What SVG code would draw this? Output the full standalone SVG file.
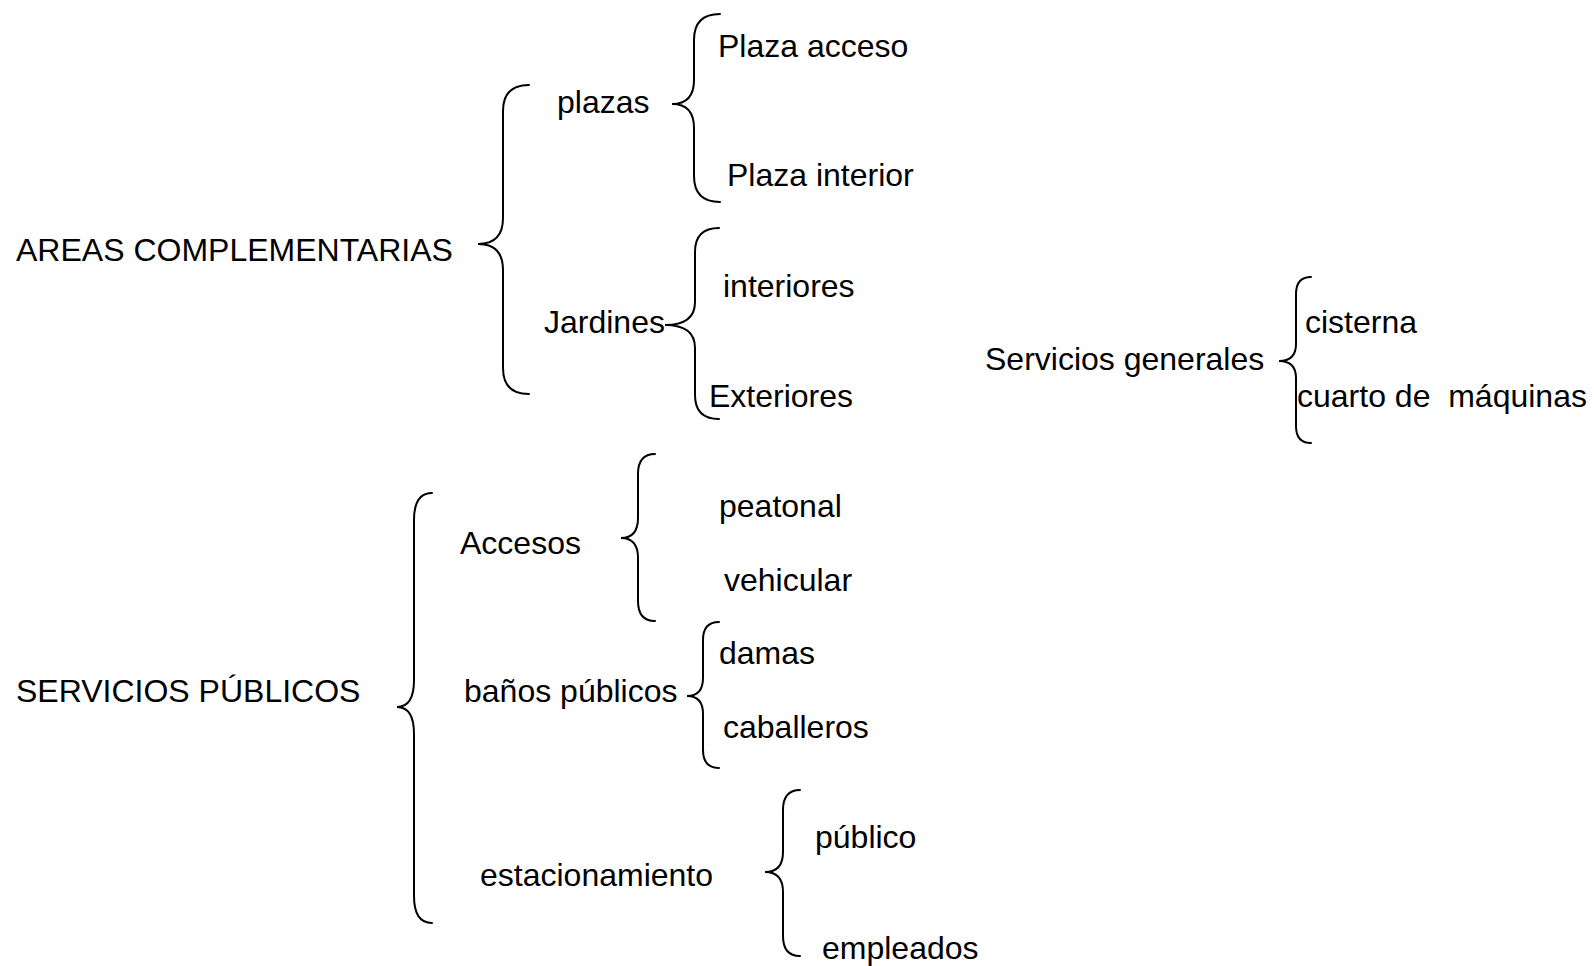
<svg xmlns="http://www.w3.org/2000/svg" width="1594" height="966" viewBox="0 0 1594 966">
<style>
text{font-family:"Liberation Sans",Arial,sans-serif;font-size:32px;fill:#000}
.br{fill:none;stroke:#000;stroke-width:2;stroke-linecap:round}
</style>
<rect width="1594" height="966" fill="#fff"/>
<g id="connectors">
<path class="br" d="M529,85 Q503,85 503,111 L503,218 Q503,244 478,244 Q503,244 503,270 L503,368 Q503,394 529,394"/>
<path class="br" d="M720,14 Q694,14 694,40 L694,80 Q694,104 672,104 Q694,104 694,128 L694,176 Q694,202 720,202"/>
<path class="br" d="M719,228 Q695,228 695,252 L695,302 Q695,325 665,325 Q695,325 695,348 L695,395 Q695,419 719,419"/>
<path class="br" d="M1311,277 Q1296,277 1296,294 L1296,344 Q1296,361 1279,361 Q1296,361 1296,378 L1296,426 Q1296,443 1311,443"/>
<path class="br" d="M432,493 Q414,493 414,520 L414,680 Q414,707 397,707 Q414,707 414,734 L414,896 Q414,923 432,923"/>
<path class="br" d="M655,454 Q638,454 638,474 L638,518 Q638,538 621,538 Q638,538 638,558 L638,601 Q638,621 655,621"/>
<path class="br" d="M719,622 Q703,622 703,640 L703,678 Q703,696 687,696 Q703,696 703,714 L703,750 Q703,768 719,768"/>
<path class="br" d="M800,790 Q783,790 783,810 L783,852 Q783,872 765,872 Q783,872 783,892 L783,936 Q783,956 800,956"/>
</g>
<g id="areas"><text x="16" y="261">AREAS COMPLEMENTARIAS</text></g>
<g id="plazas"><text x="557" y="113">plazas</text></g>
<g id="plaza-acceso"><text x="718" y="57">Plaza acceso</text></g>
<g id="plaza-interior"><text x="727" y="186">Plaza interior</text></g>
<g id="jardines"><text x="544" y="333">Jardines</text></g>
<g id="interiores"><text x="723" y="297">interiores</text></g>
<g id="exteriores"><text x="709" y="407">Exteriores</text></g>
<g id="servicios-generales"><text x="985" y="370">Servicios generales</text></g>
<g id="cisterna"><text x="1305" y="333">cisterna</text></g>
<g id="cuarto"><text x="1297" y="407" xml:space="preserve">cuarto de  máquinas</text></g>
<g id="servicios-publicos"><text x="16" y="702">SERVICIOS PÚBLICOS</text></g>
<g id="accesos"><text x="460" y="554">Accesos</text></g>
<g id="peatonal"><text x="719" y="517">peatonal</text></g>
<g id="vehicular"><text x="724" y="591">vehicular</text></g>
<g id="banos"><text x="464" y="702">baños públicos</text></g>
<g id="damas"><text x="719" y="664">damas</text></g>
<g id="caballeros"><text x="723" y="738">caballeros</text></g>
<g id="estacionamiento"><text x="480" y="886">estacionamiento</text></g>
<g id="publico"><text x="815" y="848">público</text></g>
<g id="empleados"><text x="822" y="959">empleados</text></g>
</svg>
